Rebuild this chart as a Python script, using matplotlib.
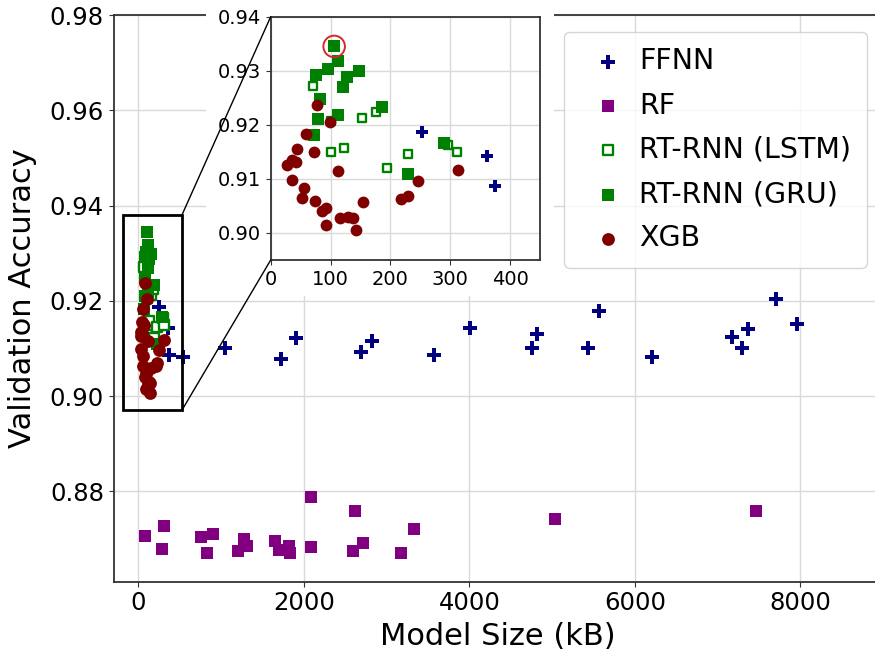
import numpy as np
import matplotlib.pyplot as plt
from matplotlib.patches import Rectangle, ConnectionPatch

# 数据 (model size in kB, validation accuracy)
ffnn_x = [252, 361, 374, 535, 1046, 1721, 1900, 2695, 2820, 3567, 4009, 4756, 4816,
          5431, 5563, 6202, 7176, 7290, 7373, 7708, 7959]
ffnn_y = [0.9187, 0.9143, 0.9086, 0.9082, 0.9101, 0.9077, 0.9123, 0.9093, 0.9115, 0.9086,
          0.9143, 0.9100, 0.9130, 0.9101, 0.9178, 0.9082, 0.9124, 0.9101, 0.9140, 0.9203, 0.9152]

rf_x = [78, 311, 281, 753, 898, 825, 1200, 1277, 1317, 1651, 1703, 1821, 1833, 2090, 2090,
        2598, 2622, 2719, 3174, 3328, 5037, 7463]
rf_y = [0.8706, 0.8727, 0.8678, 0.8703, 0.8710, 0.8671, 0.8674, 0.8699, 0.8685, 0.8696,
        0.8676, 0.8685, 0.8671, 0.8682, 0.8789, 0.8675, 0.8759, 0.8692, 0.8671, 0.8720,
        0.8741, 0.8759]

lstm_x = [70, 100, 153, 176, 101, 123, 194, 229, 296, 311]
lstm_y = [0.9272, 0.9207, 0.9212, 0.9224, 0.9150, 0.9158, 0.9121, 0.9146, 0.9163, 0.9149]

gru_x = [106, 113, 96, 75, 128, 147, 120, 83, 79, 113, 72, 186, 289, 229]
gru_y = [0.9345, 0.9318, 0.9303, 0.9292, 0.9289, 0.9299, 0.9270, 0.9248, 0.9210, 0.9219,
         0.9182, 0.9233, 0.9167, 0.9109]

xgb_x = [78, 99, 59, 44, 73, 36, 43, 28, 113, 35, 55, 52, 74, 85, 92, 92, 116, 129, 138,
         142, 154, 218, 229, 246, 313]
xgb_y = [0.9237, 0.9205, 0.9183, 0.9156, 0.9150, 0.9135, 0.9132, 0.9126, 0.9115, 0.9098,
         0.9084, 0.9064, 0.9059, 0.9041, 0.9046, 0.9014, 0.9027, 0.9030, 0.9027, 0.9006,
         0.9058, 0.9063, 0.9069, 0.9097, 0.9117]

# 最佳模型
best_x = [106]
best_y = [0.9345]

# 放大区域
zoom_box = (-190, 0.897, 525, 0.938)

NAVY = '#000080'
PURPLE = '#800080'
GREEN = '#008000'
MAROON = '#800000'
W, H = 875, 651


def draw_points(a, big=True):
    k = 1.0 if big else 0.75
    a.scatter(ffnn_x, ffnn_y, marker='P', s=90 * k, color=NAVY, linewidths=0, label='FFNN', zorder=3)
    a.scatter(rf_x, rf_y, marker='s', s=85 * k, color=PURPLE, linewidths=0, label='RF', zorder=3)
    a.scatter(lstm_x, lstm_y, marker='s', s=55 * k, facecolors='white', edgecolors=GREEN,
              linewidths=1.7, label='RT-RNN (LSTM)', zorder=3)
    a.scatter(gru_x, gru_y, marker='s', s=85 * k, color=GREEN, linewidths=0, label='RT-RNN (GRU)', zorder=3)
    a.scatter(xgb_x, xgb_y, marker='o', s=85 * (0.85 if not big else 1.0), color=MAROON, linewidths=0,
              label='XGB', zorder=3)


def style_axes(a, fs):
    a.grid(True, color='#d9d9d9', linewidth=1)
    a.set_axisbelow(True)
    a.tick_params(labelsize=fs, color='#333333')
    for sp in a.spines.values():
        sp.set_color('#333333')
        sp.set_linewidth(1.3)


fig = plt.figure(figsize=(W / 100, H / 100), dpi=100)

# 主图
ax = fig.add_axes([113.6 / W, 1 - 581.7 / H, (883 - 113.6) / W, (581.7 - 15.3) / H])
ax.set_zorder(0)
draw_points(ax, big=True)
ax.set_xlim(-300, 9000)
ax.set_ylim(0.861, 0.98)
ax.set_xticks([0, 2000, 4000, 6000, 8000])
ax.set_yticks([0.88, 0.90, 0.92, 0.94, 0.96, 0.98])
ax.yaxis.set_major_formatter(plt.FormatStrFormatter('%.2f'))
style_axes(ax, 17.5)
ax.set_xlabel('Model Size (kB)', fontsize=22, labelpad=5)
ax.set_ylabel('Validation Accuracy', fontsize=22, labelpad=9)

x0, y0, x1, y1 = zoom_box
ax.add_patch(Rectangle((x0, y0), x1 - x0, y1 - y0, fill=False, edgecolor='black',
                       linewidth=2, zorder=5))

ax.legend(loc='upper right', bbox_to_anchor=(867 / W, 1 - 31.7 / H), bbox_transform=fig.transFigure,
          borderaxespad=0, fontsize=20.5, handlelength=2.0, handletextpad=0.1,
          borderpad=0.55, labelspacing=0.57, scatterpoints=1)

# 放大图后面的白底
fig.add_artist(Rectangle((205.5 / W, 1 - 296 / H), (553.5 - 205.5) / W, 296 / H,
                         transform=fig.transFigure, facecolor='white', edgecolor='none', zorder=1))

# 放大图
axins = fig.add_axes([270.7 / W, 1 - 260 / H, (540 - 270.7) / W, (260 - 16.7) / H])
axins.set_zorder(2)
draw_points(axins, big=False)
axins.scatter(best_x, best_y, marker='o', s=240, facecolors='none', edgecolors='#d62728',
              linewidths=1.4, zorder=4)
axins.set_xlim(0, 450)
axins.set_ylim(0.895, 0.94)
axins.set_xticks([0, 100, 200, 300, 400])
axins.set_yticks([0.90, 0.91, 0.92, 0.93, 0.94])
axins.yaxis.set_major_formatter(plt.FormatStrFormatter('%.2f'))
style_axes(axins, 14)

# 连接线
for pa, pb in [((x1, y1), (0, 0.94)), ((x1, y0), (0, 0.895))]:
    con = ConnectionPatch(xyA=pa, coordsA=ax.transData, xyB=pb, coordsB=axins.transData,
                          color='black', linewidth=1)
    con.set_zorder(3)
    fig.add_artist(con)

fig.savefig('out.png', dpi=100)
